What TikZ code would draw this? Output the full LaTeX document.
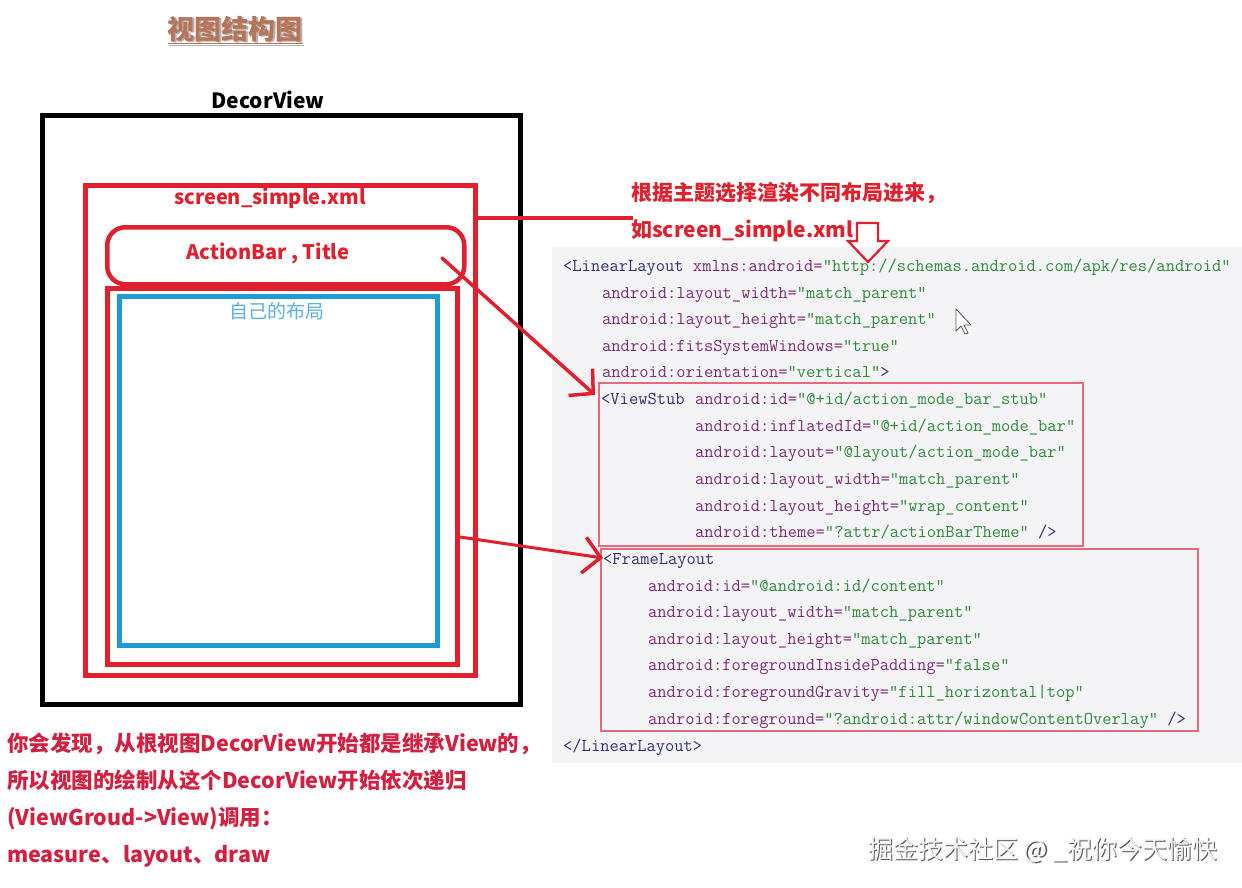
\documentclass[tikz,border=0pt]{standalone}
\usepackage{fontspec}
\newfontfamily\cjk{Noto Sans CJK SC}
\usetikzlibrary{arrows.meta,positioning}

\definecolor{penred}{HTML}{E0202C}
\definecolor{notered}{HTML}{D42040}
\definecolor{boxpink}{HTML}{E26A7A}
\definecolor{viewblue}{HTML}{1E9AD6}
\definecolor{textblue}{HTML}{5AB0E6}
\definecolor{titlebrown}{HTML}{B87458}
\definecolor{tagnavy}{HTML}{30307E}
\definecolor{attrpurple}{HTML}{7E2A78}
\definecolor{valgreen}{HTML}{2E8B3A}
\definecolor{codebg}{HTML}{F4F4F6}

\newcommand\xtag[1]{\textcolor{tagnavy}{#1}}
\newcommand\xattr[1]{\textcolor{attrpurple}{#1}}
\newcommand\xval[1]{\textcolor{valgreen}{#1}}

\tikzset{
  layoutbox/.style={draw=#1, anchor=north west, inner sep=0pt},
  lbl/.style={inner sep=0pt, font=\cjk\bfseries\fontsize{20}{24}\selectfont},
  codeline/.style={anchor=base west, inner sep=0pt, font=\ttfamily\fontsize{18}{20}\selectfont},
  codebox/.style={draw=boxpink, line width=1.6pt, anchor=north west, inner sep=0pt},
  pointer/.style={draw=penred, line width=3.5pt, line cap=round,
    -{Straight Barb[length=17pt,width=36pt,line width=3.5pt]}},
}

\begin{document}
\begin{tikzpicture}[x=1pt,y=-1pt]
    \useasboundingbox (0,0) rectangle (1242,888);
    \fill[white] (0,0) rectangle (1242,888);
    \fill[codebg] (552,247) rectangle (1242,763);

    % title
    \node[lbl, text=gray!60, font=\cjk\bfseries\fontsize{27}{30}\selectfont] (titleshade) at (236.5,31.5) {\underline{视图结构图}};
    \node[lbl, text=titlebrown, font=\cjk\bfseries\fontsize{27}{30}\selectfont] (title) at (235,30) {\underline{视图结构图}};

    % left: the view tree
    \node[layoutbox=black, line width=5pt, minimum width=478, minimum height=589] (decor) at (40,113) {};
    \node[lbl, font=\cjk\bfseries\fontsize{21}{24}\selectfont] (decorlbl) at (268,100) {DecorView};

    \node[layoutbox=penred, line width=5pt, minimum width=390, minimum height=490] (screen) at (83,183) {};
    \node[lbl, text=penred] (screenlbl) at (270,198) {screen\_simple.xml};

    \node[layoutbox=penred, line width=4.5pt, rounded corners=18pt, minimum width=357, minimum height=57] (actionbar) at (105,225) {};
    \node[lbl, text=penred] (actionlbl) at (268,253) {ActionBar , Title};

    \node[layoutbox=penred, line width=5pt, minimum width=350, minimum height=376] (content) at (105,286) {};
    \node[layoutbox=viewblue, line width=5pt, minimum width=318, minimum height=349] (mine) at (117,294) {};
    \node[inner sep=0pt, text=textblue, font=\cjk\fontsize{19}{22}\selectfont] (minelbl) at (277,311) {自己的布局};

    % right: the note
    \node[lbl, text=penred, font=\cjk\bfseries\fontsize{21}{24}\selectfont, anchor=west] (note1) at (631,193) {根据主题选择渲染不同布局进来，};
    \node[lbl, text=penred, font=\cjk\bfseries\fontsize{21}{24}\selectfont, anchor=west] (note2) at (631,231) {如screen\_simple.xml};
    \coordinate (notein) at (633,218);
    \draw[penred, line width=4pt] (screen.east |- notein) -- (notein);

    % hollow arrow down
    \draw[penred, line width=2.2pt, line join=miter]
      (857,223) -- (878,223) -- (878,241) -- (888,241) -- (868,262) -- (848,241) -- (857,241) -- cycle;

    % the xml
    \node[codeline] (c1) at (563,271) {\xtag{<LinearLayout} \xattr{xmlns:android=}\xval{"http://schemas.android.com/apk/res/android"}};
    \node[codeline] (c2) at (602,298) {\xattr{android:layout\_width=}\xval{"match\_parent"}};
    \node[codeline] (c3) at (602,324) {\xattr{android:layout\_height=}\xval{"match\_parent"}};
    \node[codeline] (c4) at (602,351) {\xattr{android:fitsSystemWindows=}\xval{"true"}};
    \node[codeline] (c5) at (602,377) {\xattr{android:orientation=}\xval{"vertical"}\xtag{>}};
    \node[codeline] (c6) at (601,404) {\xtag{<ViewStub}};
    \node[codeline] (c7) at (695,404) {\xattr{android:id=}\xval{"@+id/action\_mode\_bar\_stub"}};
    \node[codeline] (c8) at (695,431) {\xattr{android:inflatedId=}\xval{"@+id/action\_mode\_bar"}};
    \node[codeline] (c9) at (695,457) {\xattr{android:layout=}\xval{"@layout/action\_mode\_bar"}};
    \node[codeline] (c10) at (695,484) {\xattr{android:layout\_width=}\xval{"match\_parent"}};
    \node[codeline] (c11) at (695,511) {\xattr{android:layout\_height=}\xval{"wrap\_content"}};
    \node[codeline] (c12) at (695,537) {\xattr{android:theme=}\xval{"?attr/actionBarTheme"} \xtag{/>}};
    \node[codeline] (c13) at (603,564) {\xtag{<FrameLayout}};
    \node[codeline] (c14) at (648,591) {\xattr{android:id=}\xval{"@android:id/content"}};
    \node[codeline] (c15) at (648,617) {\xattr{android:layout\_width=}\xval{"match\_parent"}};
    \node[codeline] (c16) at (648,644) {\xattr{android:layout\_height=}\xval{"match\_parent"}};
    \node[codeline] (c17) at (648,670) {\xattr{android:foregroundInsidePadding=}\xval{"false"}};
    \node[codeline] (c18) at (648,697) {\xattr{android:foregroundGravity=}\xval{"fill\_horizontal|top"}};
    \node[codeline] (c19) at (648,724) {\xattr{android:foreground=}\xval{"?android:attr/windowContentOverlay"} \xtag{/>}};
    \node[codeline] (c20) at (563,751) {\xtag{</LinearLayout>}};

    \node[codebox, minimum width=484, minimum height=163] (stubbox) at (598,382) {};
    \node[codebox, minimum width=597, minimum height=182] (framebox) at (600,548) {};

    % mouse pointer
    \draw[gray!70!black, fill=white, line width=0.8pt, line join=round]
      (956,309) -- (956,331) -- (961,326) -- (965,334) -- (968,333) -- (964,325) -- (971,325) -- cycle;

    % pointers
    \coordinate (abfrom) at (442,258);
    \coordinate (contentfrom) at (content.east |- 0,537);
    \draw[pointer] (abfrom) -- ([xshift=-3pt,yshift=-13pt]stubbox.north west);
    \draw[pointer, line width=3pt] (contentfrom) -- ([xshift=3pt,yshift=-10pt]framebox.north west);

    % bottom note
    \node[lbl, text=notered, font=\cjk\bfseries\fontsize{21.5}{37}\selectfont, align=left, anchor=north west] (summary) at (7,733)
      {你会发现，从根视图DecorView开始都是继承View的，\\
       所以视图的绘制从这个DecorView开始依次递归\\
       (ViewGroud->View)调用：\\
       measure、layout、draw};

    % watermark
    \node[inner sep=0pt, text=gray!70!black, font=\cjk\fontsize{25}{28}\selectfont, anchor=west] (wmshade) at (869.2,851.2) {掘金技术社区 @ \_祝你今天愉快};
    \node[inner sep=0pt, text=gray!8, font=\cjk\fontsize{25}{28}\selectfont, anchor=west] (wm) at (868,850) {掘金技术社区 @ \_祝你今天愉快};
\end{tikzpicture}
\end{document}
